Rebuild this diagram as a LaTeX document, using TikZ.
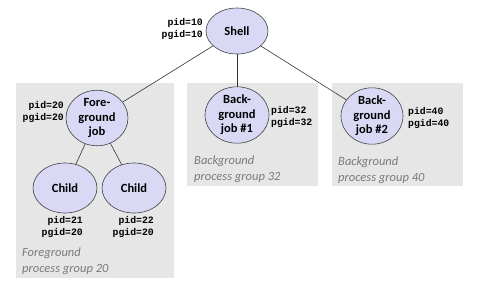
\documentclass[tikz,border=0pt]{standalone}
\usepackage{fontspec}
\setmainfont{Carlito}
\newfontfamily\codefont{Liberation Mono}
\usetikzlibrary{shapes.geometric}
\definecolor{procfill}{HTML}{D9D9F5}
\definecolor{groupfill}{HTML}{E6E6E6}
\definecolor{grouptext}{HTML}{7A7A7A}
\tikzset{
  proc/.style={ellipse, draw=black!75, line width=0.6pt, fill=procfill,
    minimum width=#1, inner sep=0pt, align=center,
    font=\fontsize{12.5}{14.5}\selectfont\bfseries},
  group/.style={fill=groupfill, draw=none},
  ids/.style={font=\codefont\fontsize{9.8}{12}\selectfont\bfseries, align=right, inner sep=0pt},
  grouplabel/.style={font=\fontsize{12.5}{15.5}\selectfont\itshape, text=grouptext, align=left, anchor=north west, inner sep=0pt},
  link/.style={draw=black!80, line width=0.6pt}
}
\begin{document}
\begin{tikzpicture}[x=1pt,y=-1pt]
\useasboundingbox (0,0) rectangle (488,301);
% process groups
\fill[group] (16,83) rectangle (174,278);
\fill[group] (187,83) rectangle (318,186);
\fill[group] (332,83) rectangle (463,186);
% processes
\node[proc=62pt, minimum height=46pt] (shell) at (237,31) {Shell};
\node[proc=62pt, minimum height=48pt] (fg) at (97,118) {Fore-\\ground\\job};
\node[proc=64pt, minimum height=50pt] (c1) at (65,188) {Child};
\node[proc=64pt, minimum height=50pt] (c2) at (134,188) {Child};
\node[proc=64pt, minimum height=54pt] (bg1) at (237,115) {Back-\\ground\\job \#1};
\node[proc=62pt, minimum height=54pt] (bg2) at (372,116) {Back-\\ground\\job \#2};
% links
\draw[link] (shell) -- (fg);
\draw[link] (shell) -- (bg1);
\draw[link] (shell) -- (bg2);
\draw[link] (fg) -- (c1);
\draw[link] (fg) -- (c2);
% ids
\node[ids, anchor=east] (idshell) at (203,29) {pid=10\\pgid=10};
\node[ids, anchor=east] (idfg) at (64,112) {pid=20\\pgid=20};
\node[ids, anchor=east] (idc1) at (83,227) {pid=21\\pgid=20};
\node[ids, anchor=east] (idc2) at (154,227) {pid=22\\pgid=20};
\node[ids, anchor=west, align=left] (idbg1) at (271,117) {pid=32\\pgid=32};
\node[ids, anchor=west, align=left] (idbg2) at (408,118) {pid=40\\pgid=40};
% group labels
\node[grouplabel] (lfg) at (22,248) {Foreground\\process group 20};
\node[grouplabel] (lbg1) at (194,156) {Background\\process group 32};
\node[grouplabel] (lbg2) at (338,157) {Background\\process group 40};
\end{tikzpicture}
\end{document}
